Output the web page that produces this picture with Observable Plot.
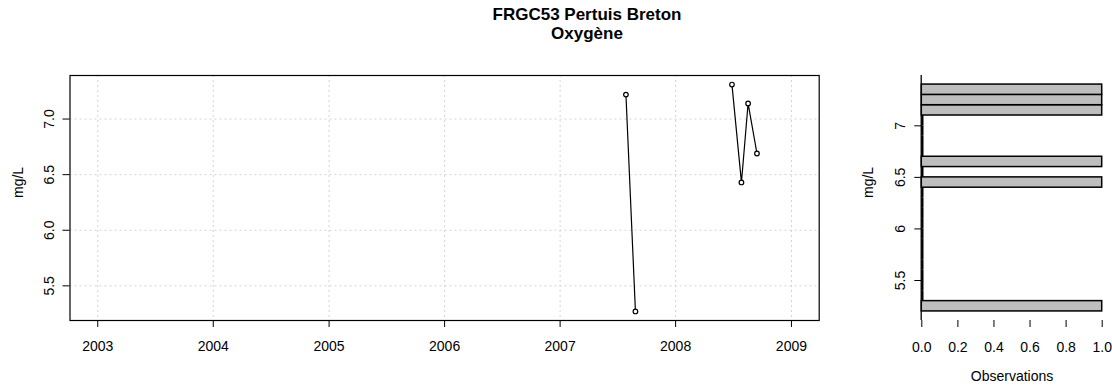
<!DOCTYPE html>
<html><head><meta charset="utf-8">
<script src="https://cdn.jsdelivr.net/npm/d3@7"></script>
<script src="https://cdn.jsdelivr.net/npm/@observablehq/plot@0.6"></script>
<style>
body{margin:0;background:#fff;font-family:"Liberation Sans",Arial,Helvetica,sans-serif;}
#chart{position:relative;width:1112px;height:385px;overflow:hidden;background:#fff;}
#title{position:absolute;left:287px;width:600px;top:5px;text-align:center;font-weight:bold;font-size:17px;line-height:19px;color:#000;}
#main{position:absolute;left:0;top:60px;}
#hist{position:absolute;left:840px;top:60px;}
</style></head><body>
<div id="chart">
  <div id="title">FRGC53 Pertuis Breton<br>Oxygène</div>
  <div id="main"></div>
  <div id="hist"></div>
</div>
<script>
// ---- data ----
const dates = ["2007-07-28", "2007-08-27", "2008-06-27", "2008-07-27", "2008-08-17", "2008-09-14"];
const oxygen = [7.22, 5.27, 7.31, 6.43, 7.14, 6.69];
const yearTicks = [2003, 2004, 2005, 2006, 2007, 2008, 2009];
const mainYTicks = [5.5, 6.0, 6.5, 7.0];
const histYTicks = [5.5, 6, 6.5, 7];
const histXTicks = [0, 0.2, 0.4, 0.6, 0.8, 1.0];
const binEdges = [5.2, 5.3, 5.4, 5.5, 5.6, 5.7, 5.8, 5.9, 6.0, 6.1, 6.2, 6.3, 6.4, 6.5, 6.6, 6.7, 6.8, 6.9, 7.0, 7.1, 7.2, 7.3, 7.4];
const yLabel = "mg/L";
const histXLabel = "Observations";

// ---- derived ----
const obs = dates.map((d, i) => ({date: new Date(d + "T00:00:00Z"), value: oxygen[i]}));
const xTicks = yearTicks.map(y => new Date(Date.UTC(y, 0, 1)));
const xPad = 0.04 * (xTicks[xTicks.length - 1] - xTicks[0]);
const xDomain = [new Date(+xTicks[0] - xPad), new Date(+xTicks[xTicks.length - 1] + xPad)];
const [ymin, ymax] = d3.extent(oxygen);
const yPad = 0.04 * (ymax - ymin);
const yDomain = [ymin - yPad, ymax + yPad];

const bins = d3.bin().domain([binEdges[0], binEdges[binEdges.length - 1]]).thresholds(binEdges)(oxygen);
const hPad = 0.04 * (binEdges[binEdges.length - 1] - binEdges[0]);
const hDomain = [binEdges[0] - hPad, binEdges[binEdges.length - 1] + hPad];

const font = "'Liberation Sans', Arial, Helvetica, sans-serif";
const grid = {stroke: "#D3D3D3", strokeOpacity: 1, strokeDasharray: "2,3", strokeWidth: 1};

const main = Plot.plot({
  width: 840, height: 325,
  marginTop: 15, marginBottom: 65, marginLeft: 69.5, marginRight: 21.3,
  style: {fontFamily: font, fontSize: "14px", color: "black", background: "white", overflow: "visible"},
  x: {type: "utc", domain: xDomain},
  y: {domain: yDomain},
  marks: [
    Plot.gridX({ticks: xTicks, ...grid}),
    Plot.gridY({ticks: mainYTicks, ...grid}),
    Plot.frame({stroke: "black", strokeWidth: 1.2}),
    Plot.axisX({ticks: xTicks, tickSize: 7, tickPadding: 14, tickFormat: d => String(d.getUTCFullYear()), label: null, fontSize: 14}),
    Plot.axisY({ticks: mainYTicks, tickSize: 7, tickPadding: 9, tickRotate: -90, tickFormat: d3.format(".1f"), label: null, fontSize: 14}),
    Plot.text([yLabel], {text: d => d, frameAnchor: "left", dx: -51, rotate: -90, fontSize: 14}),
    Plot.line(obs, {x: "date", y: "value", z: d => d.date.getUTCFullYear(), stroke: "black", strokeWidth: 1.2}),
    Plot.dot(obs, {x: "date", y: "value", r: 2.3, stroke: "black", fill: "white", strokeWidth: 1.2})
  ]
});
document.getElementById("main").appendChild(main);

const hist = Plot.plot({
  width: 272, height: 325,
  marginTop: 15, marginBottom: 65, marginLeft: 81.3, marginRight: 10.3,
  style: {fontFamily: font, fontSize: "14px", color: "black", background: "white", overflow: "visible"},
  x: {domain: [0, 1]},
  y: {domain: hDomain},
  marks: [
    Plot.ruleX([0], {stroke: "black", strokeWidth: 1.3, dx: -0.6}),
    Plot.rectX(bins.filter(b => b.length > 0), {x1: 0, x2: b => b.length, y1: "x0", y2: "x1", fill: "#BEBEBE", stroke: "black", strokeWidth: 1.5}),
    Plot.ruleX(bins.filter(b => b.length === 0), {x: 0, y1: "x0", y2: "x1", stroke: "black", strokeWidth: 2.2, dx: 0.6}),
    Plot.axisX({ticks: histXTicks, tickSize: 7, tickPadding: 15, tickFormat: d3.format(".1f"), label: null, fontSize: 14}),
    Plot.axisY({ticks: histYTicks, tickSize: 7, tickPadding: 10, tickRotate: -90, tickFormat: d => String(d), label: null, fontSize: 14}),
    Plot.text([yLabel], {text: d => d, frameAnchor: "left", dx: -53, rotate: -90, fontSize: 14}),
    Plot.text([histXLabel], {text: d => d, frameAnchor: "bottom", dy: 60, fontSize: 14})
  ]
});
document.getElementById("hist").appendChild(hist);
</script>
</body></html>
